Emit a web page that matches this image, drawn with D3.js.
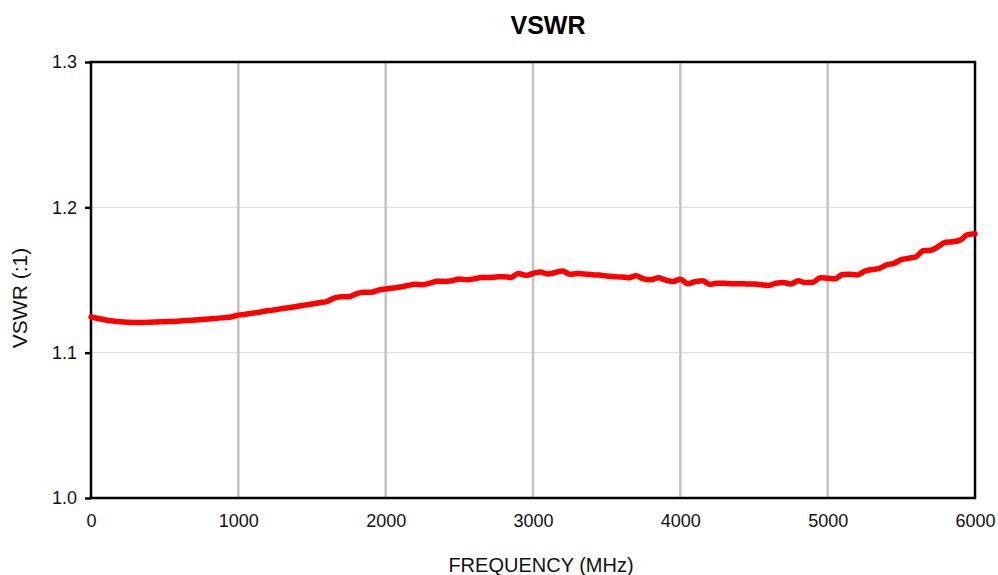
<!DOCTYPE html>
<html>
<head>
<meta charset="utf-8">
<script src="https://cdn.jsdelivr.net/npm/d3@7"></script>
<style>
  html, body { margin: 0; padding: 0; background: #fff; }
  svg { display: block; font-family: "Liberation Sans", Arial, sans-serif; }
</style>
</head>
<body>
<svg id="chart" width="998" height="575"></svg>
<script>
// Frequency samples (MHz)
const frequencies = d3.range(0, 6001, 50);
// VSWR values, one per frequency
const vswr = [
  1.1245, 1.1235, 1.1225, 1.1218, 1.1213, 1.1210, 1.1208, 1.1208, 1.1209, 1.1211,
  1.1213, 1.1215, 1.1218, 1.1221, 1.1224, 1.1228, 1.1232, 1.1236, 1.1241, 1.1246,
  1.1258, 1.1265, 1.1272, 1.1280, 1.1288, 1.1295, 1.1304, 1.1311, 1.1319, 1.1327,
  1.1335, 1.1344, 1.1352, 1.1375, 1.1385, 1.1385, 1.1405, 1.1415, 1.1415, 1.1430,
  1.1438, 1.1445, 1.1452, 1.1462, 1.1470, 1.1468, 1.1478, 1.1492, 1.1490, 1.1495,
  1.1507, 1.1502, 1.1508, 1.1517, 1.1518, 1.1521, 1.1523, 1.1518, 1.1545, 1.1532,
  1.1545, 1.1555, 1.1542, 1.1552, 1.1562, 1.1540, 1.1544, 1.1542, 1.1536, 1.1534,
  1.1527, 1.1523, 1.1520, 1.1516, 1.1530, 1.1508, 1.1502, 1.1516, 1.1500, 1.1490,
  1.1505, 1.1475, 1.1488, 1.1495, 1.1470, 1.1478, 1.1478, 1.1474, 1.1474, 1.1473,
  1.1472, 1.1468, 1.1462, 1.1478, 1.1482, 1.1473, 1.1494, 1.1482, 1.1485, 1.1516,
  1.1512, 1.1508, 1.1538, 1.1540, 1.1535, 1.1560, 1.1572, 1.1580, 1.1604, 1.1615,
  1.1640, 1.1650, 1.1660, 1.1702, 1.1705, 1.1730, 1.1760, 1.1763, 1.1775, 1.1812,
  1.1818
];
const xTicks = [0, 1000, 2000, 3000, 4000, 5000, 6000];
const yTicks = [1.0, 1.1, 1.2, 1.3];

const svg = d3.select("#chart");
const mLeft = 91, mRight = 975, mTop = 62, mBottom = 498;

const x = d3.scaleLinear().domain([0, 6000]).range([mLeft, mRight]);
const y = d3.scaleLinear().domain([1.0, 1.3]).range([mBottom, mTop]);

// horizontal grid
svg.append("g").selectAll("line").data(yTicks.filter(d => d > 1.0 && d < 1.3)).join("line")
  .attr("x1", mLeft).attr("x2", mRight)
  .attr("y1", d => y(d)).attr("y2", d => y(d))
  .attr("stroke", "#d9d9d9").attr("stroke-width", 1);

// vertical grid
svg.append("g").selectAll("line").data(xTicks.filter(d => d > 0 && d < 6000)).join("line")
  .attr("x1", d => x(d)).attr("x2", d => x(d))
  .attr("y1", mTop).attr("y2", mBottom)
  .attr("stroke", "#c3c3c3").attr("stroke-width", 2.5);

// frame
svg.append("rect")
  .attr("x", mLeft).attr("y", mTop)
  .attr("width", mRight - mLeft).attr("height", mBottom - mTop)
  .attr("fill", "none").attr("stroke", "#000").attr("stroke-width", 2.5);

// y axis
const yAxis = d3.axisLeft(y).tickValues(yTicks).tickFormat(d3.format(".1f")).tickSize(6).tickPadding(8);
const gy = svg.append("g").attr("transform", `translate(${mLeft},0)`).call(yAxis);
gy.select(".domain").remove();
gy.selectAll(".tick line").attr("stroke", "#000").attr("stroke-width", 2.5);
gy.selectAll(".tick text").attr("fill", "#111").style("font-size", "18px").style("font-family", "Liberation Sans, Arial, sans-serif");

// x axis
const xAxis = d3.axisBottom(x).tickValues(xTicks).tickFormat(d3.format("d")).tickSize(0).tickPadding(16);
const gx = svg.append("g").attr("transform", `translate(0,${mBottom})`).call(xAxis);
gx.select(".domain").remove();
gx.selectAll(".tick text").attr("fill", "#111").style("font-size", "18px").style("font-family", "Liberation Sans, Arial, sans-serif");

// line
const line = d3.line().x((d, i) => x(frequencies[i])).y(d => y(d)).curve(d3.curveMonotoneX);
svg.append("path").datum(vswr)
  .attr("d", line)
  .attr("fill", "none").attr("stroke", "#ff0000").attr("stroke-width", 5.5)
  .attr("stroke-linejoin", "round").attr("stroke-linecap", "round");

// titles
svg.append("text").attr("x", 548).attr("y", 34).attr("text-anchor", "middle")
  .style("font-size", "25px").style("font-weight", "bold").attr("fill", "#000").text("VSWR");
svg.append("text").attr("x", 541).attr("y", 572).attr("text-anchor", "middle")
  .style("font-size", "20px").attr("fill", "#111").text("FREQUENCY (MHz)");
svg.append("text").attr("transform", "translate(27,298) rotate(-90)").attr("text-anchor", "middle")
  .style("font-size", "21px").attr("fill", "#111").text("VSWR (:1)");
</script>
</body>
</html>
